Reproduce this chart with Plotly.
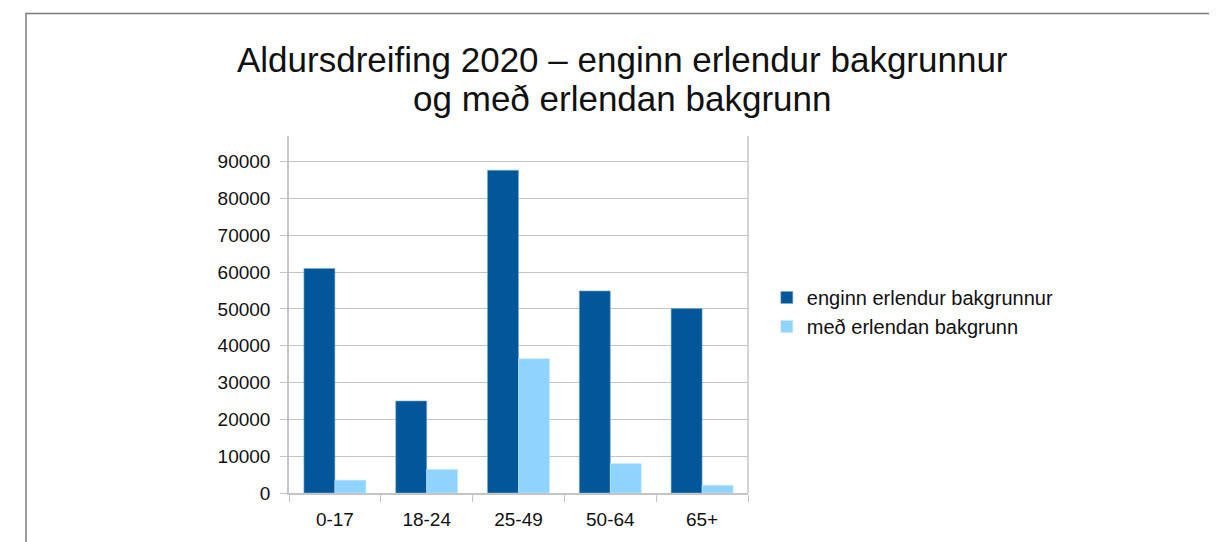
import plotly.graph_objects as go

age_groups = ['0-17', '18-24', '25-49', '50-64', '65+']
no_foreign_bg = [61000, 25000, 87700, 54900, 50100]
foreign_bg = [3500, 6400, 36500, 8000, 2100]
y_ticks = [0, 10000, 20000, 30000, 40000, 50000, 60000, 70000, 80000, 90000]

title_lines = ['Aldursdreifing 2020 – enginn erlendur bakgrunnur',
               'og með erlendan bakgrunn']

font_family = 'Liberation Sans, Arial, Helvetica, sans-serif'
grid_col = '#c4c4c4'

fig = go.Figure()
fig.add_trace(go.Bar(
    x=age_groups,
    y=no_foreign_bg,
    name='enginn erlendur bakgrunnur',
    marker=dict(color='#02579a', line=dict(color='#7fa9cf', width=0.6))
))
fig.add_trace(go.Bar(
    x=age_groups,
    y=foreign_bg,
    name='með erlendan bakgrunn',
    marker=dict(color='#8fd3ff', line=dict(color='#c6e9ff', width=0.6))
))

# title: base font sets the line spacing, spans carry the glyph size
title_text = '<br>'.join(f"<span style='font-size:35px'>{t}</span>" for t in title_lines)
fig.add_annotation(text=title_text,
                   xref='paper', yref='paper', x=0.7255, y=1.0445,
                   xanchor='center', yanchor='bottom', showarrow=False,
                   font=dict(size=30, color='#111111', family=font_family))

# outer frame
fig.add_shape(type='rect', xref='paper', yref='paper',
              x0=-0.573, x1=2.017, y0=-0.25, y1=1.343,
              line=dict(color='#7a7a7a', width=1.5), layer='below')

fig.update_layout(
    width=1209,
    height=534,
    barmode='group',
    bargap=0.325,
    bargroupgap=0,
    plot_bgcolor='white',
    paper_bgcolor='white',
    margin=dict(l=281, r=469, t=128, b=45),
    font=dict(family=font_family, size=19, color='#111111'),
    showlegend=True,
    legend=dict(x=1.041, y=0.507, xanchor='left', yanchor='middle',
                font=dict(size=20), itemwidth=30, tracegroupgap=0,
                bgcolor='rgba(0,0,0,0)'),
)

fig.update_yaxes(
    range=[0, 97000],
    tickvals=y_ticks,
    tickformat='d',
    showgrid=True, gridcolor=grid_col, gridwidth=1,
    showline=True, linecolor=grid_col, linewidth=1.5,
    ticks='outside', ticklen=7, tickcolor=grid_col,
    zeroline=False,
    ticklabelstandoff=6,
)
fig.update_xaxes(
    showline=True, linecolor=grid_col, linewidth=1.5,
    ticks='outside', ticklen=7, tickcolor=grid_col,
    tickson='boundaries',
    showgrid=False,
    ticklabelstandoff=8,
)
# right border of the plot area
fig.add_shape(type='line', xref='paper', yref='paper', x0=1, x1=1, y0=0, y1=1,
              line=dict(color=grid_col, width=1.5))

fig.write_html("out.html")
